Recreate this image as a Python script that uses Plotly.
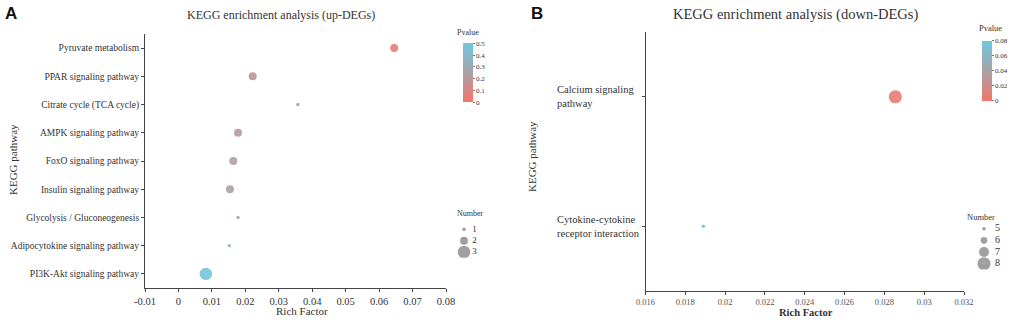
import plotly.graph_objects as go

# ---------------- data ----------------
pathways_up = ["Pyruvate metabolism", "PPAR signaling pathway", "Citrate cycle (TCA cycle)",
               "AMPK signaling pathway", "FoxO signaling pathway", "Insulin signaling pathway",
               "Glycolysis / Gluconeogenesis", "Adipocytokine signaling pathway",
               "PI3K-Akt signaling pathway"]
rich_up = [0.0645, 0.0222, 0.0357, 0.0178, 0.0164, 0.0154, 0.0178, 0.0152, 0.0082]
number_up = [2, 2, 1, 2, 2, 2, 1, 1, 3]
pvalue_up = [0.04, 0.18, 0.22, 0.20, 0.23, 0.25, 0.32, 0.38, 0.48]

pathways_down = ["Calcium signaling pathway", "Cytokine-cytokine receptor interaction"]
pathway_labels_down = ["Calcium signaling<br>pathway", "Cytokine-cytokine<br>receptor interaction"]
rich_down = [0.02855, 0.0189]
number_down = [8, 5]
pvalue_down = [0.005, 0.075]

xtick_up = [-0.01, 0, 0.01, 0.02, 0.03, 0.04, 0.05, 0.06, 0.07, 0.08]
xtick_up_text = ["-0.01", "0", "0.01", "0.02", "0.03", "0.04", "0.05", "0.06", "0.07", "0.08"]
xtick_down = [0.016, 0.018, 0.020, 0.022, 0.024, 0.026, 0.028, 0.030, 0.032]
xtick_down_text = ["0.016", "0.018", "0.02", "0.022", "0.024", "0.026", "0.028", "0.03", "0.032"]

legend_up = [1, 2, 3]
legend_down = [5, 6, 7, 8]
cbar_up = [0, 0.1, 0.2, 0.3, 0.4, 0.5]
cbar_down = [0, 0.02, 0.04, 0.06, 0.08]

# ---------------- styling ----------------
W, H = 1021, 324
SERIF = "Liberation Serif"
TXT = "#333333"
AX = "#444444"
cscale = [[0, "#F2766A"], [0.5, "#A9A1A5"], [1, "#6FC8DF"]]


def size_up(n):
    return 3.5 + (n - 1) * 4.5


def size_down(n):
    return 3.5 + (n - 5) * 3.2


def px(x):
    return x / W


def py(y):
    return 1 - y / H


fig = go.Figure()

# Panel A points
fig.add_trace(go.Scatter(
    x=rich_up, y=pathways_up, mode="markers", xaxis="x", yaxis="y",
    marker=dict(size=[size_up(n) for n in number_up], color=pvalue_up,
                coloraxis="coloraxis", opacity=0.9, line=dict(width=0)),
    showlegend=False))

# Panel B points
fig.add_trace(go.Scatter(
    x=rich_down, y=pathways_down, mode="markers", xaxis="x2", yaxis="y2",
    marker=dict(size=[size_down(n) for n in number_down], color=pvalue_down,
                coloraxis="coloraxis2", opacity=0.9, line=dict(width=0)),
    showlegend=False))

# Size legend A
fig.add_trace(go.Scatter(
    x=[0.225] * len(legend_up), y=legend_up, mode="markers", xaxis="x3", yaxis="y3",
    marker=dict(size=[size_up(n) for n in legend_up], color="#777777", line=dict(width=0)),
    showlegend=False, hoverinfo="skip"))
fig.add_trace(go.Scatter(
    x=[0.43] * len(legend_up), y=legend_up, mode="text", xaxis="x3", yaxis="y3",
    text=[str(n) for n in legend_up], textposition="middle right",
    textfont=dict(family=SERIF, size=9, color=TXT), showlegend=False, hoverinfo="skip"))

# Size legend B
fig.add_trace(go.Scatter(
    x=[0.225] * len(legend_down), y=legend_down, mode="markers", xaxis="x4", yaxis="y4",
    marker=dict(size=[size_down(n) for n in legend_down], color="#777777", line=dict(width=0)),
    showlegend=False, hoverinfo="skip"))
fig.add_trace(go.Scatter(
    x=[0.5] * len(legend_down), y=legend_down, mode="text", xaxis="x4", yaxis="y4",
    text=[str(n) for n in legend_down], textposition="middle right",
    textfont=dict(family=SERIF, size=10, color=TXT), showlegend=False, hoverinfo="skip"))

axis_common = dict(showline=True, linecolor=AX, linewidth=1, ticks="outside",
                   tickcolor=AX, ticklen=3, tickwidth=1, showgrid=False, zeroline=False)

fig.update_layout(
    width=W, height=H, margin=dict(l=0, r=0, t=0, b=0, autoexpand=False),
    paper_bgcolor="white", plot_bgcolor="white",
    font=dict(family=SERIF, color=TXT),
    xaxis=dict(domain=[px(145), px(446)], anchor="y", range=[-0.01, 0.08],
               tickvals=xtick_up, ticktext=xtick_up_text,
               tickfont=dict(family=SERIF, size=10.5, color=TXT), **axis_common),
    yaxis=dict(domain=[py(288), py(34)], anchor="x", type="category",
               categoryorder="array", categoryarray=pathways_up[::-1], range=[-0.5, 8.5],
               tickfont=dict(family=SERIF, size=9.5, color=TXT), **axis_common),
    xaxis2=dict(domain=[px(645.5), px(964)], anchor="y2", range=[0.016, 0.032],
                tickvals=xtick_down, ticktext=xtick_down_text,
                tickfont=dict(family=SERIF, size=8.5, color="#555555"), **axis_common),
    yaxis2=dict(domain=[py(291), py(32)], anchor="x2", type="category",
                categoryorder="array", categoryarray=pathways_down[::-1], range=[-0.5, 1.5],
                showticklabels=False, **axis_common),
    xaxis3=dict(domain=[px(455), px(495)], anchor="y3", range=[0, 1], visible=False),
    yaxis3=dict(domain=[py(257.7), py(223.7)], anchor="x3", range=[3.5, 0.5], visible=False),
    xaxis4=dict(domain=[px(975), px(1015)], anchor="y4", range=[0, 1], visible=False),
    yaxis4=dict(domain=[py(269.6), py(222.8)], anchor="x4", range=[8.5, 4.5], visible=False),
    coloraxis=dict(cmin=0, cmax=0.5, colorscale=cscale,
                   colorbar=dict(x=px(463.3), xanchor="left", y=py(72.8), yanchor="middle",
                                 lenmode="pixels", len=59, thickness=10, outlinewidth=0,
                                 tickvals=cbar_up, ticks="outside", ticklen=2, tickcolor="#777",
                                 tickfont=dict(family=SERIF, size=7, color=TXT), xpad=0, ypad=0)),
    coloraxis2=dict(cmin=0, cmax=0.08, colorscale=cscale,
                    colorbar=dict(x=px(982), xanchor="left", y=py(70.7), yanchor="middle",
                                  lenmode="pixels", len=60, thickness=10, outlinewidth=0,
                                  tickvals=cbar_down, ticks="outside", ticklen=2, tickcolor="#777",
                                  tickfont=dict(family=SERIF, size=7, color=TXT), xpad=0, ypad=0)),
)

P = dict(xref="paper", yref="paper", showarrow=False, xanchor="center", yanchor="middle")
annotations = [
    dict(text="<b>A</b>", x=px(11), y=py(14),
         font=dict(family="Liberation Sans", size=17, color="#111"), **P),
    dict(text="<b>B</b>", x=px(537), y=py(14),
         font=dict(family="Liberation Sans", size=17, color="#111"), **P),
    dict(text="KEGG enrichment analysis (up-DEGs)", x=px(281), y=py(15),
         font=dict(family=SERIF, size=12, color=TXT), **P),
    dict(text="KEGG enrichment analysis (down-DEGs)", x=px(795), y=py(15),
         font=dict(family=SERIF, size=14.5, color=TXT), **P),
    dict(text="Rich Factor", x=px(301.5), y=py(311),
         font=dict(family=SERIF, size=11, color=TXT), **P),
    dict(text="<b>Rich Factor</b>", x=px(806), y=py(312),
         font=dict(family=SERIF, size=10.5, color=TXT), **P),
    dict(text="KEGG pathway", x=px(13), y=py(160), textangle=-90,
         font=dict(family=SERIF, size=11, color=TXT), **P),
    dict(text="KEGG pathway", x=px(532), y=py(157), textangle=-90,
         font=dict(family=SERIF, size=11, color=TXT), **P),
    dict(text="Pvalue", x=px(468), y=py(32), font=dict(family=SERIF, size=8, color=TXT), **P),
    dict(text="Pvalue", x=px(990), y=py(28), font=dict(family=SERIF, size=8.5, color=TXT), **P),
    dict(text="Number", x=px(470), y=py(213), font=dict(family=SERIF, size=8, color=TXT), **P),
    dict(text="Number", x=px(981), y=py(217), font=dict(family=SERIF, size=8.5, color=TXT), **P),
]
for i, lab in enumerate(pathway_labels_down):
    annotations.append(dict(text=lab, xref="paper", yref="y2",
                            y=len(pathways_down) - 1 - i, x=px(555), xanchor="left",
                            align="left", yanchor="middle", showarrow=False,
                            font=dict(family=SERIF, size=10.5, color=TXT)))
fig.update_layout(annotations=annotations)

fig.write_html("out.html", config={"displayModeBar": False},
               post_script="document.body.style.margin='0';")
